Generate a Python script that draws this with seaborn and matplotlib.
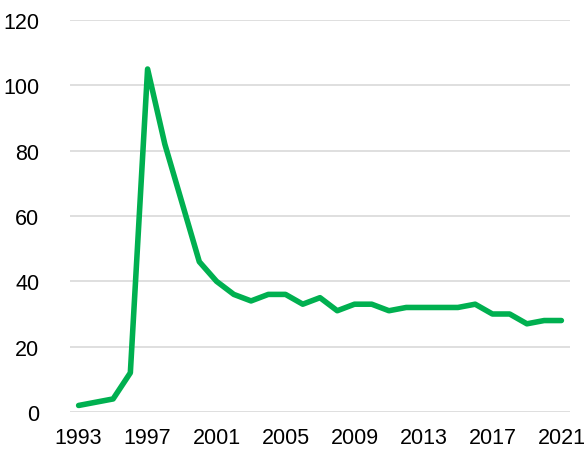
import matplotlib
matplotlib.use("Agg")
import matplotlib.pyplot as plt
import seaborn as sns
import pandas as pd

years = list(range(1993, 2022))
values = [2, 3, 4, 12, 105, 82, 64, 46, 40, 36, 34, 36, 36, 33, 35, 31,
          33, 33, 31, 32, 32, 32, 32, 33, 30, 30, 27, 28, 28]
xticks = [1993, 1997, 2001, 2005, 2009, 2013, 2017, 2021]
yticks = [0, 20, 40, 60, 80, 100, 120]

df = pd.DataFrame({"year": years, "value": values})

sns.set_style("white")
plt.rcParams["font.family"] = ["Liberation Sans", "DejaVu Sans"]

fig = plt.figure(figsize=(5.87, 4.52), dpi=100)
ax = fig.add_axes([70 / 587, 39 / 452, 500 / 587, 392 / 452])

for y in yticks:
    ax.axhline(y, color="#d9d9d9", lw=1.2, zorder=0)

sns.lineplot(data=df, x="year", y="value", ax=ax, color="#00b050",
             lw=4, solid_capstyle="round", solid_joinstyle="round")

ax.set_xlim(1992.5, 2021.5)
ax.set_ylim(0, 120)
ax.set_xticks(xticks)
ax.set_yticks(yticks)
ax.tick_params(axis="both", length=0, labelsize=15.5, colors="black")
ax.tick_params(axis="y", pad=22)
ax.tick_params(axis="x", pad=11)
ax.set_xlabel("")
ax.set_ylabel("")
for s in ax.spines.values():
    s.set_visible(False)

fig.savefig("out.png", dpi=100)
